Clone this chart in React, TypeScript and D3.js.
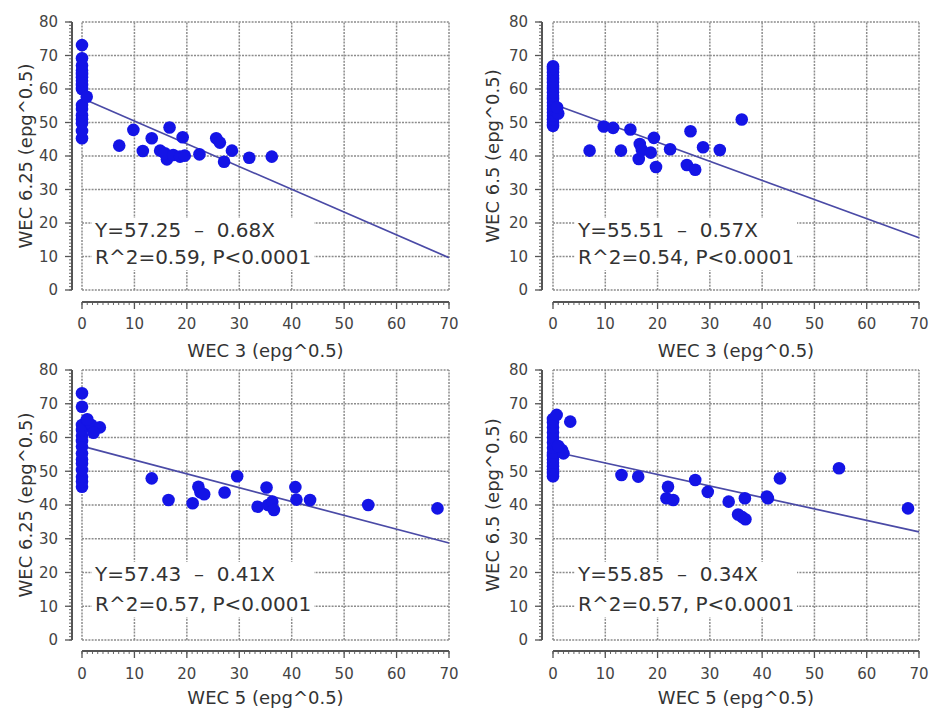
import React from "react";
import * as d3 from "d3";

// ---------- DATA ----------
const X_TICKS = [0, 10, 20, 30, 40, 50, 60, 70];
const Y_TICKS = [0, 10, 20, 30, 40, 50, 60, 70, 80];

// Panel 1: WEC 3 vs WEC 6.25
const p1X = [0, 0, 0, 0, 0, 0, 0, 0, 0, 0, 0, 0, 0, 0, 0, 0, 0.9,
  7.1, 9.8, 11.6, 13.3, 14.9, 16.7, 16.2, 15.8, 17.4, 19.2, 18.7, 19.6, 22.4, 25.6, 26.3, 27.1, 28.6, 31.9, 36.2];
const p1Y = [45.3, 47.5, 49.8, 51.0, 52.2, 54.0, 55.2, 60.0, 61.2, 62.5, 63.5, 64.5, 65.5, 67.0, 69.2, 73.1, 57.7,
  43.1, 47.8, 41.5, 45.3, 41.6, 48.5, 39.0, 40.8, 40.3, 45.6, 39.8, 40.1, 40.5, 45.3, 44.0, 38.3, 41.6, 39.5, 39.8];

// Panel 2: WEC 3 vs WEC 6.5
const p2X = [0, 0, 0, 0, 0, 0, 0, 0, 0, 0, 0, 0, 0, 0, 0, 0, 0, 0, 0, 1.0, 0.8,
  7.0, 9.7, 11.5, 13.0, 14.8, 16.6, 16.4, 17.0, 18.7, 19.3, 19.7, 22.4, 25.6, 26.3, 27.2, 28.7, 31.9, 36.1];
const p2Y = [49, 50, 51, 52, 53, 54, 55, 56, 57, 58, 59, 60, 61, 62, 63, 64, 65, 66, 66.8, 52.7, 54.5,
  41.6, 48.8, 48.4, 41.6, 47.9, 43.6, 39.1, 41.8, 41.0, 45.4, 36.7, 42.0, 37.3, 47.4, 35.9, 42.6, 41.8, 50.9];

// Panel 3: WEC 5 vs WEC 6.25
const p3X = [0, 0, 0, 0, 0, 0, 0, 0, 0, 0, 0, 0, 0, 0, 0.9, 1.8, 3.4, 2.2, 1.0,
  13.3, 16.5, 21.1, 22.2, 22.6, 23.3, 27.2, 29.6, 33.5, 35.2, 35.5, 36.3, 36.6, 40.7, 40.9, 43.5, 54.6, 67.8];
const p3Y = [45.4, 47.0, 48.4, 50.4, 52.3, 53.5, 55.3, 57.3, 59.0, 60.5, 62.2, 63.7, 69.1, 73.1, 65.2, 63.7, 63.0, 61.4, 65.4,
  47.9, 41.5, 40.5, 45.4, 43.8, 43.2, 43.7, 48.5, 39.5, 45.2, 40.0, 41.0, 38.5, 45.3, 41.6, 41.5, 40.0, 39.0];

// Panel 4: WEC 5 vs WEC 6.5
const p4X = [0, 0, 0, 0, 0, 0, 0, 0, 0, 0, 0, 0, 0, 0, 0, 0.7, 3.3, 1.7, 2.0, 1.0,
  13.1, 16.3, 22.0, 21.7, 23.0, 27.2, 29.6, 33.6, 35.4, 36.7, 36.2, 36.8, 40.9, 41.1, 43.4, 54.7, 67.9];
const p4Y = [48.5, 49.5, 50.5, 51.5, 52.5, 53.5, 54.5, 55.5, 57.0, 58.5, 60.0, 61.5, 63.0, 64.5, 65.5, 66.7, 64.7, 56.3, 55.3, 57.5,
  48.9, 48.4, 45.4, 42.0, 41.5, 47.4, 43.9, 41.0, 37.2, 42.0, 36.4, 35.8, 42.5, 42.0, 47.9, 50.9, 39.0];

const intercepts = [57.25, 55.51, 57.43, 55.85];
const slopes = [0.68, 0.57, 0.41, 0.34];
const eqLine1 = ["Y=57.25  –  0.68X", "Y=55.51  –  0.57X", "Y=57.43  –  0.41X", "Y=55.85  –  0.34X"];
const eqLine2 = ["R^2=0.59, P<0.0001", "R^2=0.54, P<0.0001", "R^2=0.57, P<0.0001", "R^2=0.57, P<0.0001"];
const xTitles = ["WEC 3 (epg^0.5)", "WEC 3 (epg^0.5)", "WEC 5 (epg^0.5)", "WEC 5 (epg^0.5)"];
const yTitles = ["WEC 6.25 (epg^0.5)", "WEC 6.5 (epg^0.5)", "WEC 6.25 (epg^0.5)", "WEC 6.5 (epg^0.5)"];

// ---------- LAYOUT ----------
const W = 933, H = 710;
const cols = [
  { left: 82, right: 449, axisX: 72, yLabelX: 26, eqX: 95, tickRight: 58 },
  { left: 553, right: 919, axisX: 542, yLabelX: 493, eqX: 578, tickRight: 528 },
];
const rows = [
  { top: 22, bottom: 290, axisY: 302, tickY: 329, titleY: 357, eq1: 237, eq2: 264 },
  { top: 370, bottom: 640, axisY: 651, tickY: 679, titleY: 704, eq1: 581, eq2: 611 },
];

const DOT = "#1414e6";
const LINE = "#4a4aa6";
const GRID = "#8c8c8c";
const AXIS = "#555";
const TEXT = "#333";
const FONT = "'DejaVu Sans', Verdana, sans-serif";

function Panel({ idx, xs, ys }: { idx: number; xs: number[]; ys: number[] }) {
  const c = cols[idx % 2];
  const r = rows[Math.floor(idx / 2)];
  const x = d3.scaleLinear().domain([0, 70]).range([c.left, c.right]);
  const y = d3.scaleLinear().domain([0, 80]).range([r.bottom, r.top]);
  const minorX = d3.range(0, 71, 1);
  const minorY = d3.range(0, 81, 1);
  const b = intercepts[idx], m = slopes[idx];
  const line = d3.line<number>().x((v) => x(v)).y((v) => y(b - m * v));
  const eqFont = 20;
  const boxW = 222;
  const pts = xs.map((v, i) => [v, ys[i]]);
  return (
    <g>
      {/* grid */}
      {Y_TICKS.map((t) => (
        <line key={"gy" + t} x1={c.left} x2={c.right} y1={y(t)} y2={y(t)}
          stroke={GRID} strokeWidth={1.5} strokeDasharray="2,1.2" />
      ))}
      {X_TICKS.map((t) => (
        <line key={"gx" + t} x1={x(t)} x2={x(t)} y1={y(0)} y2={y(80)}
          stroke={GRID} strokeWidth={1.5} strokeDasharray="2,1.2" />
      ))}
      {/* equation box */}
      <rect x={c.eqX - 3} y={r.eq1 - 19} width={boxW} height={r.eq2 - r.eq1 + 25} fill="#fff" />
      <text x={c.eqX} y={r.eq1} fontFamily={FONT} fontSize={eqFont} fill={TEXT} style={{ whiteSpace: "pre" }}>{eqLine1[idx]}</text>
      <text x={c.eqX} y={r.eq2} fontFamily={FONT} fontSize={eqFont} fill={TEXT}>{eqLine2[idx]}</text>
      {/* y axis */}
      <line x1={c.axisX} x2={c.axisX} y1={y(80)} y2={y(0)} stroke={AXIS} strokeWidth={2} />
      {minorY.map((t) => (
        <line key={"my" + t} x1={c.axisX - 3} x2={c.axisX} y1={y(t)} y2={y(t)} stroke={AXIS} strokeWidth={0.9} />
      ))}
      {Y_TICKS.map((t) => (
        <g key={"ty" + t}>
          <line x1={c.axisX - 7} x2={c.axisX} y1={y(t)} y2={y(t)} stroke={AXIS} strokeWidth={1.3} />
          <text x={c.tickRight} y={y(t)} dy="0.35em" textAnchor="end" fontFamily={FONT} fontSize={15} fill="#444">{t}</text>
        </g>
      ))}
      {/* x axis */}
      <line x1={x(0)} x2={x(70)} y1={r.axisY} y2={r.axisY} stroke={AXIS} strokeWidth={2} />
      {minorX.map((t) => (
        <line key={"mx" + t} x1={x(t)} x2={x(t)} y1={r.axisY} y2={r.axisY + 3} stroke={AXIS} strokeWidth={0.9} />
      ))}
      {X_TICKS.map((t) => (
        <g key={"tx" + t}>
          <line x1={x(t)} x2={x(t)} y1={r.axisY} y2={r.axisY + 7} stroke={AXIS} strokeWidth={1.3} />
          <text x={x(t)} y={r.tickY} textAnchor="middle" fontFamily={FONT} fontSize={15} fill="#444">{t}</text>
        </g>
      ))}
      {/* titles */}
      <text x={(c.left + c.right) / 2} y={r.titleY} textAnchor="middle" fontFamily={FONT} fontSize={18} fill={TEXT}>{xTitles[idx]}</text>
      <text transform={`translate(${c.yLabelX},${(r.top + r.bottom) / 2}) rotate(-90)`} dy="0.35em" textAnchor="middle"
        fontFamily={FONT} fontSize={18} fill={TEXT}>{yTitles[idx]}</text>
      {/* regression line */}
      <path d={line([0, 70]) || ""} fill="none" stroke={LINE} strokeWidth={1.7} />
      {/* points */}
      {pts.map((p, i) => (
        <circle key={"p" + i} cx={x(p[0])} cy={y(p[1])} r={6.3} fill={DOT} />
      ))}
    </g>
  );
}

export default function App() {
  return (
    <svg width={W} height={H} style={{ position: "absolute", left: 0, top: 0, background: "#fff" }}>
      <rect width={W} height={H} fill="#fff" />
      <Panel idx={0} xs={p1X} ys={p1Y} />
      <Panel idx={1} xs={p2X} ys={p2Y} />
      <Panel idx={2} xs={p3X} ys={p3Y} />
      <Panel idx={3} xs={p4X} ys={p4Y} />
    </svg>
  );
}
